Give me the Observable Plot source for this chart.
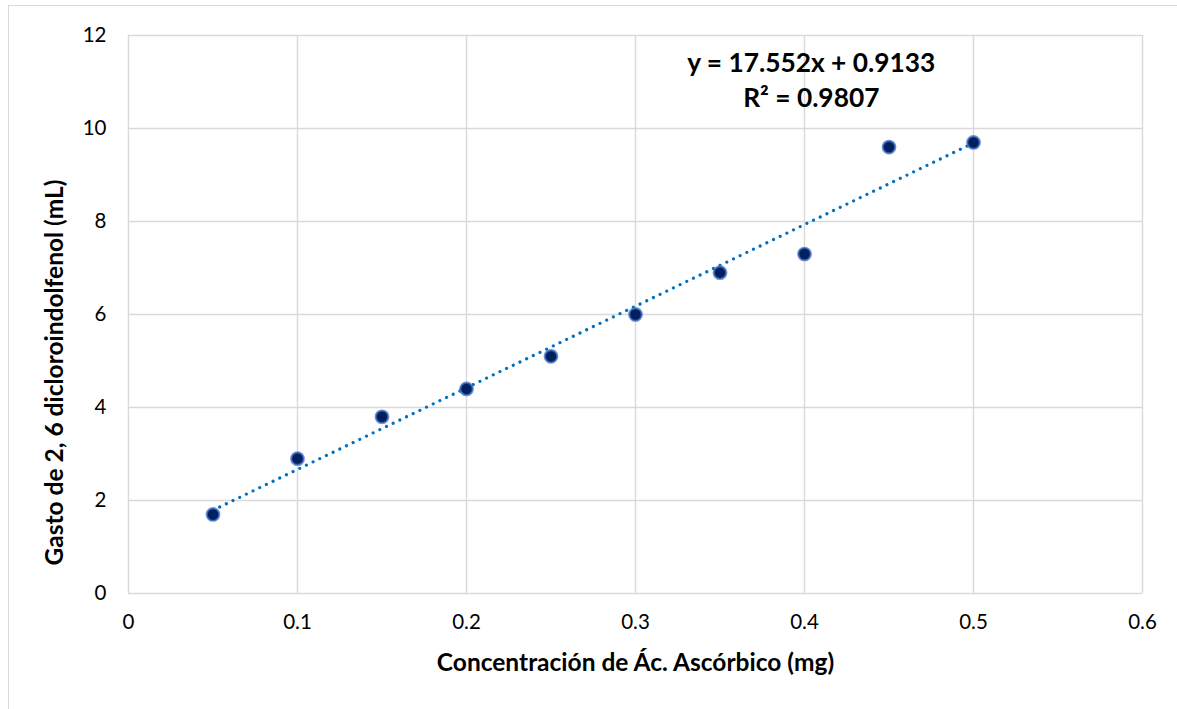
<!DOCTYPE html>
<html>
<head>
<meta charset="utf-8">
<script src="https://cdn.jsdelivr.net/npm/d3@7"></script>
<script src="https://cdn.jsdelivr.net/npm/@observablehq/plot@0.6"></script>
<style>
  html, body { margin: 0; padding: 0; background: #fff; }
  #wrap { position: relative; width: 1177px; height: 709px; overflow: hidden; }
  #border { position: absolute; left: 8px; top: 5px; width: 1200px; height: 720px; border: 1.5px solid #d9d9d9; box-sizing: border-box; }
  #chart { position: absolute; left: 0; top: 0; }
</style>
</head>
<body>
<div id="wrap"><div id="border"></div><div id="chart"></div></div>
<script>
// Data
const concentration = [0.05, 0.10, 0.15, 0.20, 0.25, 0.30, 0.35, 0.40, 0.45, 0.50];
const gasto = [1.7, 2.9, 3.8, 4.4, 5.1, 6.0, 6.9, 7.3, 9.6, 9.7];
const trendSlope = 17.552;
const trendIntercept = 0.9133;
const rSquared = 0.9807;
const xTicks = [0, 0.1, 0.2, 0.3, 0.4, 0.5, 0.6];
const yTicks = [0, 2, 4, 6, 8, 10, 12];
const xTitle = "Concentración de Ác. Ascórbico (mg)";
const yTitle = "Gasto de 2, 6 dicloroindolfenol (mL)";

const points = concentration.map((x, i) => ({x, y: gasto[i]}));
const xMin = d3.min(concentration), xMax = d3.max(concentration);
const trend = [xMin, xMax].map(x => ({x, y: trendSlope * x + trendIntercept}));
const eqText = `y = ${trendSlope}x + ${trendIntercept}\nR² = ${rSquared}`;

const font = "Lato, 'Open Sans', sans-serif";

const chart = Plot.plot({
  width: 1177,
  height: 709,
  marginLeft: 128,
  marginRight: 35,
  marginTop: 35,
  marginBottom: 116,
  style: {fontFamily: font, fontSize: "20px", color: "#000", background: "transparent"},
  x: {domain: [0, 0.6]},
  y: {domain: [0, 12]},
  marks: [
    Plot.gridX(xTicks, {stroke: "#d9d9d9", strokeOpacity: 1, strokeWidth: 1.4}),
    Plot.gridY(yTicks, {stroke: "#d9d9d9", strokeOpacity: 1, strokeWidth: 1.4}),
    Plot.axisX(xTicks, {tickSize: 0, tickPadding: 21, fontSize: 20.5, tickFormat: d => String(d), label: null, fill: "#000"}),
    Plot.axisY(yTicks, {tickSize: 0, tickPadding: 22, fontSize: 20.5, tickFormat: d => String(d), label: null, fill: "#000"}),
    Plot.line(trend, {x: "x", y: "y", stroke: "#0070C0", strokeWidth: 3.2, strokeDasharray: "0.01 7.4", strokeLinecap: "round"}),
    Plot.dot(points, {x: "x", y: "y", r: 6.3, fill: "#002060", stroke: "#4472C4", strokeWidth: 2.2, strokeOpacity: 0.75}),
    Plot.text([eqText], {x: 0.404, y: 11.07, text: d => d, fontSize: 26.3, fontWeight: "bold", lineHeight: 1.33, lineAnchor: "middle", textAnchor: "middle", fill: "#000"}),
    Plot.text([xTitle], {frameAnchor: "bottom", dy: 70, lineAnchor: "middle", textAnchor: "middle", text: d => d, fontSize: 24.5, fontWeight: "bold", fill: "#000"}),
    Plot.text([yTitle], {frameAnchor: "left", dx: -73, dy: 58, rotate: -90, lineAnchor: "middle", textAnchor: "middle", text: d => d, fontSize: 24.5, fontWeight: "bold", fill: "#000"})
  ]
});
document.getElementById("chart").appendChild(chart);
</script>
</body>
</html>
